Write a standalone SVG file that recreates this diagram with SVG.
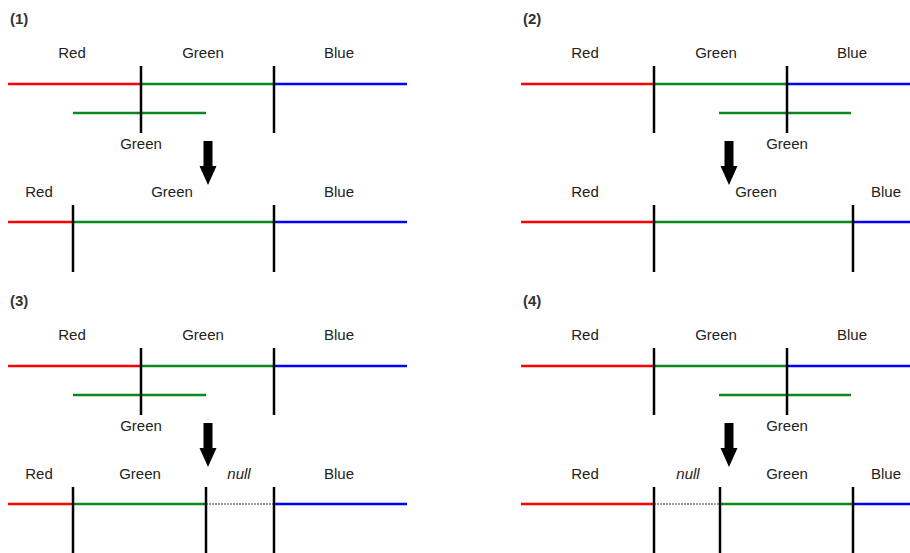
<svg xmlns="http://www.w3.org/2000/svg" width="910" height="553" viewBox="0 0 910 553">
<style>
text{font-family:"Liberation Sans",Arial,sans-serif;font-size:15px;fill:#222;text-anchor:middle}
.t{font-weight:bold;text-anchor:start;fill:#333}
.i{font-style:italic}
.r{stroke:#ff0000;stroke-width:2.5}
.g{stroke:#0a8a1e;stroke-width:2.5}
.b{stroke:#0000ff;stroke-width:2.5}
.k{stroke:#000;stroke-width:2.5}
.d{stroke:#444;stroke-width:1;stroke-dasharray:2,1}
</style>
<rect width="910" height="553" fill="#fff"/>
<defs>
<g id="arrow"><path d="M-4.5,0 H4.5 V25 H8.5 L0,44 L-8.5,25 H-4.5 Z" fill="#000"/></g>
</defs>

<g id="panel1">
<text class="t" x="10" y="24">(1)</text>
<text x="72" y="58">Red</text><text x="203" y="58">Green</text><text x="339" y="58">Blue</text>
<line class="r" x1="8" y1="84" x2="141" y2="84"/><line class="g" x1="141" y1="84" x2="274" y2="84"/><line class="b" x1="274" y1="84" x2="407" y2="84"/>
<line class="g" x1="73" y1="113" x2="206" y2="113"/>
<line class="k" x1="141" y1="66" x2="141" y2="133"/><line class="k" x1="274" y1="66" x2="274" y2="133"/>
<text x="141" y="149">Green</text>
<use href="#arrow" x="208" y="141"/>
<text x="39" y="197">Red</text><text x="172" y="197">Green</text><text x="339" y="197">Blue</text>
<line class="r" x1="8" y1="222" x2="73" y2="222"/><line class="g" x1="73" y1="222" x2="274" y2="222"/><line class="b" x1="274" y1="222" x2="407" y2="222"/>
<line class="k" x1="73" y1="205" x2="73" y2="272"/><line class="k" x1="274" y1="205" x2="274" y2="272"/>
</g>

<g id="panel2">
<text class="t" x="523" y="24">(2)</text>
<text x="585" y="58">Red</text><text x="716" y="58">Green</text><text x="852" y="58">Blue</text>
<line class="r" x1="521" y1="84" x2="654" y2="84"/><line class="g" x1="654" y1="84" x2="787" y2="84"/><line class="b" x1="787" y1="84" x2="910" y2="84"/>
<line class="g" x1="719" y1="113" x2="851" y2="113"/>
<line class="k" x1="654" y1="66" x2="654" y2="133"/><line class="k" x1="787" y1="66" x2="787" y2="133"/>
<text x="787" y="149">Green</text>
<use href="#arrow" x="729" y="141"/>
<text x="585" y="197">Red</text><text x="756" y="197">Green</text><text x="886" y="197">Blue</text>
<line class="r" x1="521" y1="222" x2="654" y2="222"/><line class="g" x1="654" y1="222" x2="853" y2="222"/><line class="b" x1="853" y1="222" x2="910" y2="222"/>
<line class="k" x1="654" y1="205" x2="654" y2="272"/><line class="k" x1="853" y1="205" x2="853" y2="272"/>
</g>

<g id="panel3">
<text class="t" x="10" y="306">(3)</text>
<text x="72" y="340">Red</text><text x="203" y="340">Green</text><text x="339" y="340">Blue</text>
<line class="r" x1="8" y1="366" x2="141" y2="366"/><line class="g" x1="141" y1="366" x2="274" y2="366"/><line class="b" x1="274" y1="366" x2="407" y2="366"/>
<line class="g" x1="73" y1="395" x2="206" y2="395"/>
<line class="k" x1="141" y1="348" x2="141" y2="415"/><line class="k" x1="274" y1="348" x2="274" y2="415"/>
<text x="141" y="431">Green</text>
<use href="#arrow" x="208" y="423"/>
<text x="39" y="479">Red</text><text x="140" y="479">Green</text><text class="i" x="239" y="479">null</text><text x="339" y="479">Blue</text>
<line class="r" x1="8" y1="504" x2="73" y2="504"/><line class="g" x1="73" y1="504" x2="206" y2="504"/><line class="d" x1="206" y1="504" x2="274" y2="504"/><line class="b" x1="274" y1="504" x2="407" y2="504"/>
<line class="k" x1="73" y1="487" x2="73" y2="553"/><line class="k" x1="206" y1="487" x2="206" y2="553"/><line class="k" x1="274" y1="487" x2="274" y2="553"/>
</g>

<g id="panel4">
<text class="t" x="523" y="306">(4)</text>
<text x="585" y="340">Red</text><text x="716" y="340">Green</text><text x="852" y="340">Blue</text>
<line class="r" x1="521" y1="366" x2="654" y2="366"/><line class="g" x1="654" y1="366" x2="787" y2="366"/><line class="b" x1="787" y1="366" x2="910" y2="366"/>
<line class="g" x1="719" y1="395" x2="851" y2="395"/>
<line class="k" x1="654" y1="348" x2="654" y2="415"/><line class="k" x1="787" y1="348" x2="787" y2="415"/>
<text x="787" y="431">Green</text>
<use href="#arrow" x="729" y="423"/>
<text x="585" y="479">Red</text><text class="i" x="688" y="479">null</text><text x="787" y="479">Green</text><text x="886" y="479">Blue</text>
<line class="r" x1="521" y1="504" x2="654" y2="504"/><line class="d" x1="654" y1="504" x2="720" y2="504"/><line class="g" x1="720" y1="504" x2="853" y2="504"/><line class="b" x1="853" y1="504" x2="910" y2="504"/>
<line class="k" x1="654" y1="487" x2="654" y2="553"/><line class="k" x1="720" y1="487" x2="720" y2="553"/><line class="k" x1="853" y1="487" x2="853" y2="553"/>
</g>
</svg>
